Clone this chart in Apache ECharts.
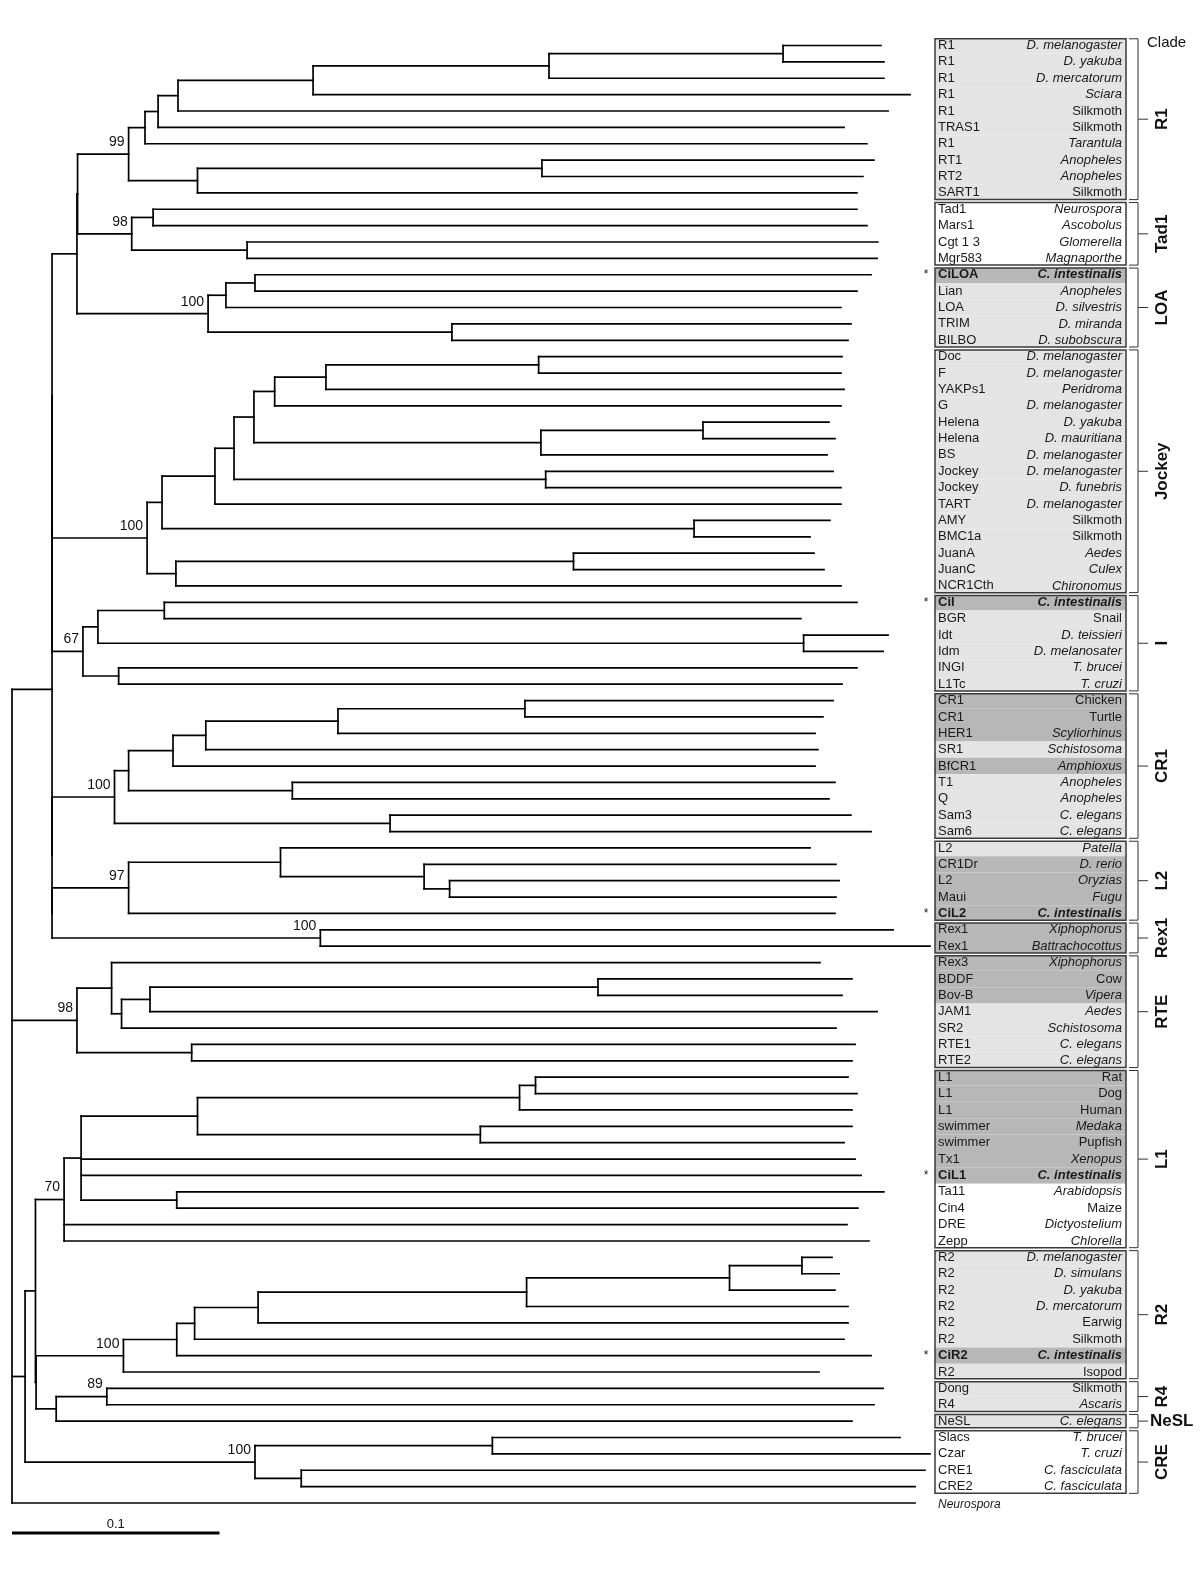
<!DOCTYPE html>
<html><head><meta charset="utf-8">
<script src="https://cdn.jsdelivr.net/npm/echarts@6/dist/echarts.min.js"></script>
<style>html,body{margin:0;padding:0;background:#fff}#c{width:1200px;height:1571px}</style>
</head><body><div id="c"></div>
<script>
// ---------------- DATA ----------------
const leafNames = ['R1','R1','R1','R1','R1','TRAS1','R1','RT1','RT2','SART1',
 'Tad1','Mars1','Cgt 1 3','Mgr583',
 'CiLOA','Lian','LOA','TRIM','BILBO',
 'Doc','F','YAKPs1','G','Helena','Helena','BS','Jockey','Jockey','TART','AMY','BMC1a','JuanA','JuanC','NCR1Cth',
 'CiI','BGR','Idt','Idm','INGI','L1Tc',
 'CR1','CR1','HER1','SR1','BfCR1','T1','Q','Sam3','Sam6',
 'L2','CR1Dr','L2','Maui','CiL2',
 'Rex1','Rex1',
 'Rex3','BDDF','Bov-B','JAM1','SR2','RTE1','RTE2',
 'L1','L1','L1','swimmer','swimmer','Tx1','CiL1','Ta11','Cin4','DRE','Zepp',
 'R2','R2','R2','R2','R2','R2','CiR2','R2',
 'Dong','R4','NeSL',
 'Slacs','Czar','CRE1','CRE2',''];
const leafSpecies = ['D. melanogaster','D. yakuba','D. mercatorum','Sciara','Silkmoth','Silkmoth','Tarantula','Anopheles','Anopheles','Silkmoth',
 'Neurospora','Ascobolus','Glomerella','Magnaporthe',
 'C. intestinalis','Anopheles','D. silvestris','D. miranda','D. subobscura',
 'D. melanogaster','D. melanogaster','Peridroma','D. melanogaster','D. yakuba','D. mauritiana','D. melanogaster','D. melanogaster','D. funebris','D. melanogaster','Silkmoth','Silkmoth','Aedes','Culex','Chironomus',
 'C. intestinalis','Snail','D. teissieri','D. melanosater','T. brucei','T. cruzi',
 'Chicken','Turtle','Scyliorhinus','Schistosoma','Amphioxus','Anopheles','Anopheles','C. elegans','C. elegans',
 'Patella','D. rerio','Oryzias','Fugu','C. intestinalis',
 'Xiphophorus','Battrachocottus',
 'Xiphophorus','Cow','Vipera','Aedes','Schistosoma','C. elegans','C. elegans',
 'Rat','Dog','Human','Medaka','Pupfish','Xenopus','C. intestinalis','Arabidopsis','Maize','Dictyostelium','Chlorella',
 'D. melanogaster','D. simulans','D. yakuba','D. mercatorum','Earwig','Silkmoth','C. intestinalis','Isopod',
 'Silkmoth','Ascaris','C. elegans',
 'T. brucei','T. cruzi','C. fasciculata','C. fasciculata','Neurospora'];
const uprightSpecies = ['Silkmoth','Chicken','Turtle','Snail','Cow','Rat','Dog','Human','Pupfish','Maize','Earwig','Isopod'];
const ciRows = [14,34,53,69,80];
// tip depth of each leaf (substitutions/site from root)
const leafTipDepth = [0.4188,0.4202,0.4202,0.4328,0.4222,0.4010,0.4120,0.4154,0.4101,0.4072,
 0.4072,0.4120,0.4173,0.4169,
 0.4140,0.4072,0.3995,0.4043,0.4029,
 0.4000,0.3995,0.4010,0.3995,0.3937,0.3966,0.3928,0.3957,0.3995,0.3995,0.3942,0.3846,0.3865,0.3913,0.3995,
 0.4072,0.3802,0.4222,0.4198,0.4072,0.4000,
 0.3957,0.3908,0.3870,0.3884,0.3870,0.3966,0.3937,0.4043,0.4140,
 0.3846,0.3971,0.3986,0.3971,0.3966,
 0.4246,0.4424,
 0.3894,0.4048,0.4000,0.4169,0.3971,0.4063,0.4048,
 0.4029,0.4072,0.4048,0.4048,0.4010,0.4063,0.4092,0.4202,0.4077,0.4024,0.4130,
 0.3952,0.3986,0.3966,0.4029,0.4029,0.4010,0.4140,0.3889,
 0.4198,0.4154,0.4048,
 0.4280,0.4424,0.4400,0.4352,0.4352];
// row shading: L light grey, D dark grey, W white
const rowShade = ['L','L','L','L','L','L','L','L','L','L',
 'W','W','W','W',
 'D','L','L','L','L',
 'L','L','L','L','L','L','L','L','L','L','L','L','L','L','L',
 'D','L','L','L','L','L',
 'D','D','D','L','D','L','L','L','L',
 'L','D','D','D','D',
 'D','D',
 'D','D','D','L','L','L','L',
 'D','D','D','D','D','D','D','W','W','W','W',
 'L','L','L','L','L','L','D','L',
 'L','L','L',
 'W','W','W','W'];
const cladeNames = ['R1','Tad1','LOA','Jockey','I','CR1','L2','Rex1','RTE','L1','R2','R4','NeSL','CRE'];
const cladeFirst = [0,10,14,19,34,40,49,54,56,63,74,82,84,85];
const cladeLast  = [9,13,18,33,39,48,53,55,62,73,81,83,84,88];
const scaleBar = [0, 0.1];
// Tree topology (leaf indices), node depth from root after ':', bootstrap after ')'
const nwR1 = '(((((((0,1):0.3716,2):0.2588,3):0.1451,4):0.0800,5):0.0704,6):0.0641,((7,8):0.2554,9):0.0894)99:0.0562';
const nwTad1 = '((10,11):0.0680,(12,13):0.1133)98:0.0577';
const nwLOA = '(((14,15):0.1171,16):0.1031,(17,18):0.2120)100:0.0945';
const nwJockey = '((((((((19,20):0.2538,21):0.1513,22):0.1266,((23,24):0.3330,25):0.2549):0.1166,(26,27):0.2572):0.1070,28):0.0978,(29,30):0.3287):0.0723,((31,32):0.2706,33):0.0790)100:0.0651';
const nwI = '(((34,35):0.0734,(36,37):0.3815):0.0414,(38,39):0.0514)67:0.0342';
const nwCR1 = '((((((40,41):0.2472,42):0.1571,43):0.0934,44):0.0776,(45,46):0.1351):0.0562,(47,48):0.1822)100:0.0494';
const nwL2 = '((49,(50,(51,52):0.2109):0.1986):0.1294,53)97:0.0562';
const nwRex1 = '(54,55)100:0.1486';
const nwRTE = '((56,(((57,58):0.2824,59):0.0665,60):0.0528):0.0480,(61,62):0.0866)98:0.0313';
const nwL1 = '(((((63,64):0.2523,65):0.2446,(66,67):0.2257):0.0894,68,69,(70,71):0.0794):0.0333,72,73)70:0.0251';
const nwR2 = '(((((((74,75):0.3807,76):0.3458,77):0.2480,78):0.1186,79):0.0880,80):0.0794,81)100:0.0537';
const nwR4NeSL = '((82,83)89:0.0457,84):0.0213';
const nwCRE = '((85,86):0.2315,(87,88):0.1394)100:0.1171';
const nwUpper = `(((((${nwR1},${nwTad1}):0.0316,${nwLOA}):0.0313,${nwJockey}):0.0193,${nwI}):0.0193,(${nwCR1},(${nwL2},${nwRex1}):0.0193):0.0193):0.0193`;
const nwLower = `((${nwL1},(${nwR2},${nwR4NeSL}):0.0116):0.0113,${nwCRE}):0.0063`;
const nwTree = `(${nwUpper},${nwRTE},${nwLower},89):0`;

// ---------------- TREE BUILD ----------------
function parseNewick(s){
  let i = 0;
  function node(){
    if (s[i] === '('){
      i++;
      const kids = [node()];
      while (s[i] === ','){ i++; kids.push(node()); }
      i++; // ')'
      let label = '';
      while (i < s.length && /[0-9]/.test(s[i])) label += s[i++];
      let depth = 0;
      if (s[i] === ':'){ i++; let n=''; while (i < s.length && /[0-9.]/.test(s[i])) n += s[i++]; depth = parseFloat(n); }
      return {kids, label, depth};
    }
    let n=''; while (i < s.length && /[0-9]/.test(s[i])) n += s[i++];
    const idx = parseInt(n,10);
    return {leaf: idx, depth: leafTipDepth[idx]};
  }
  return node();
}
const root = parseNewick(nwTree);
const segments = [], supports = [];
(function layout(n){
  if (n.kids){
    n.kids.forEach(layout);
    n.y = (n.kids[0].y + n.kids[n.kids.length-1].y)/2;
    segments.push([n.depth, n.kids[0].y, n.depth, n.kids[n.kids.length-1].y]);
    n.kids.forEach(k => segments.push([n.depth, k.y, k.depth, k.y]));
    if (n.label) supports.push([n.depth, n.y, n.label]);
  } else n.y = n.leaf;
})(root);

// ---------------- LAYOUT CONSTANTS ----------------
const FONT = '"Liberation Sans", Arial, sans-serif';
const BOX_L = 935, BOX_R = 1126, NAME_X = 938, SPEC_X = 1122, STAR_X = 926;
const BR_X = 1138, BR_T = 1129, BR_MID = 1148, CLADE_X = 1162;
const SHADE = {L:'#e4e4e4', D:'#b7b7b7', W:'#ffffff'};
const INSET = 0.09;

const chart = echarts.init(document.getElementById('c'), null, {renderer:'canvas'});
chart.setOption({
  animation: false,
  backgroundColor: '#fff',
  grid: {left: 12, top: 45.5, width: 1188, height: 1457.5},
  xAxis: {type:'value', min:0, max:1188/2075, show:false},
  yAxis: {type:'value', inverse:true, min:0, max:89, show:false},
  graphic: [{type:'text', left: 1147, top: 35, style:{text:'Clade', font:'15px '+FONT, fill:'#111'}}],
  series: [
    { type:'custom', name:'branches', clip:false, z:3,
      dimensions:['x1','y1','x2','y2'], encode:{x:[0,2], y:[1,3]},
      data: segments,
      renderItem(params, api){
        const p1 = api.coord([api.value(0), api.value(1)]);
        const p2 = api.coord([api.value(2), api.value(3)]);
        return {type:'line', shape:{x1:p1[0],y1:p1[1],x2:p2[0],y2:p2[1]},
          style:{stroke:'#000', lineWidth:1.7, lineCap:'square'}};
      }
    },
    { type:'custom', name:'support', clip:false, z:4,
      dimensions:['x','y'], encode:{x:0, y:1},
      data: supports,
      renderItem(params, api){
        const p = api.coord([api.value(0), api.value(1)]);
        return {type:'text', x: p[0]-4, y: p[1]-5,
          style:{text: supports[params.dataIndex][2], font:'14px '+FONT, fill:'#111',
            textAlign:'right', textVerticalAlign:'bottom', align:'right', verticalAlign:'bottom'}};
      }
    },
    { type:'custom', name:'clades', clip:false, z:1,
      dimensions:['first','last'], encode:{y:[0,1]},
      data: cladeFirst.map((f,i)=>[f, cladeLast[i]]),
      renderItem(params, api){
        const f = api.value(0), l = api.value(1);
        const top = api.coord([0, f-0.5+INSET])[1];
        const bot = api.coord([0, l+0.5-INSET])[1];
        const ch = [];
        for (let r=f; r<=l; r++){
          const y0 = Math.max(api.coord([0, r-0.5])[1], top);
          const y1 = Math.min(api.coord([0, r+0.5])[1], bot);
          ch.push({type:'rect', shape:{x:BOX_L, y:y0, width:BOX_R-BOX_L, height:y1-y0}, style:{fill:SHADE[rowShade[r]]}});
        }
        ch.push({type:'rect', shape:{x:BOX_L, y:top, width:BOX_R-BOX_L, height:bot-top}, style:{fill:null, stroke:'#3a3a3a', lineWidth:1.5}});
        const mid = (top+bot)/2;
        ch.push({type:'polyline', shape:{points:[[BR_T,top],[BR_X,top],[BR_X,bot],[BR_T,bot]]}, style:{fill:null, stroke:'#333', lineWidth:1}});
        ch.push({type:'line', shape:{x1:BR_X,y1:mid,x2:BR_MID,y2:mid}, style:{stroke:'#333', lineWidth:1}});
        const name = cladeNames[params.dataIndex];
        if (name === 'NeSL'){
          ch.push({type:'text', x:BR_MID+2, y:mid, style:{text:name, font:'bold 17px '+FONT, fill:'#111', textAlign:'left', textVerticalAlign:'middle', align:'left', verticalAlign:'middle'}});
        } else {
          ch.push({type:'text', x:CLADE_X, y:mid, rotation:Math.PI/2, style:{text:name, font:'bold 17px '+FONT, fill:'#111', textAlign:'center', textVerticalAlign:'middle', align:'center', verticalAlign:'middle'}});
        }
        return {type:'group', children: ch};
      }
    },
    { type:'custom', name:'labels', clip:false, z:5,
      dimensions:['row'], encode:{y:0},
      data: leafNames.map((n,i)=>[i]),
      renderItem(params, api){
        const i = api.value(0);
        const y = api.coord([0, i])[1];
        const bold = ciRows.indexOf(i) >= 0;
        const sp = leafSpecies[i];
        const ital = uprightSpecies.indexOf(sp) < 0;
        const ch = [];
        if (leafNames[i]) ch.push({type:'text', x:NAME_X, y:y, style:{text:leafNames[i], font:(bold?'bold ':'')+'13px '+FONT, fill:'#1a1a1a', textAlign:'left', textVerticalAlign:'middle', align:'left', verticalAlign:'middle'}});
        if (leafNames[i]){
          ch.push({type:'text', x:SPEC_X, y:y, style:{text:sp, font:(ital?'italic ':'')+(bold?'bold ':'')+'13px '+FONT, fill:'#1a1a1a', textAlign:'right', textVerticalAlign:'middle', align:'right', verticalAlign:'middle'}});
        } else {
          ch.push({type:'text', x:NAME_X, y:y+2, style:{text:sp, font:'italic 12px '+FONT, fill:'#1a1a1a', textAlign:'left', textVerticalAlign:'middle', align:'left', verticalAlign:'middle'}});
        }
        if (bold) ch.push({type:'text', x:STAR_X, y:y, style:{text:'*', font:'12px '+FONT, fill:'#222', textAlign:'center', textVerticalAlign:'middle', align:'center', verticalAlign:'middle'}});
        return {type:'group', children: ch};
      }
    },
    { type:'custom', name:'scale', clip:false, z:3,
      dimensions:['x0','x1'], encode:{x:[0,1]},
      data: [scaleBar],
      renderItem(params, api){
        const a = api.coord([api.value(0), 89]);
        const b = api.coord([api.value(1), 89]);
        const y = a[1] + 30;
        return {type:'group', children:[
          {type:'line', shape:{x1:a[0], y1:y, x2:b[0], y2:y}, style:{stroke:'#000', lineWidth:3}},
          {type:'text', x:(a[0]+b[0])/2, y:y-2, style:{text:String(scaleBar[1]), font:'13px '+FONT, fill:'#111', textAlign:'center', textVerticalAlign:'bottom', align:'center', verticalAlign:'bottom'}}
        ]};
      }
    }
  ]
});
</script></body></html>
